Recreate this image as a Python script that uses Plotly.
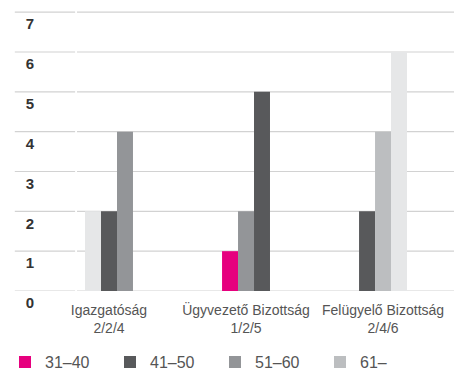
import plotly.graph_objects as go

# testuletek, a cimke alatt a korcsoportos letszamok
categories = ["Igazgatóság<br>2/2/4", "Ügyvezető Bizottság<br>1/2/5", "Felügyelő Bizottság<br>2/4/6"]

# harom oszlop-pozicio csoportonkent (novekvo sorrendben)
slot1 = [2, 1, 2]
slot2 = [2, 2, 4]
slot3 = [4, 5, 6]

PINK = "#e6007e"
DARK = "#58595b"
MID = "#939598"
LIGHT = "#bcbec0"
PALE = "#e6e7e8"

slot1_colors = [PALE, PINK, DARK]
slot2_colors = [DARK, MID, LIGHT]
slot3_colors = [MID, DARK, PALE]

legend_names = ["31–40", "41–50", "51–60", "61–"]
legend_colors = [PINK, DARK, MID, LIGHT]

y_ticks = list(range(0, 8))
GRID = "#d2d2d2"

fig = go.Figure()
for vals, cols in [(slot1, slot1_colors), (slot2, slot2_colors), (slot3, slot3_colors)]:
    fig.add_trace(go.Bar(x=categories, y=vals, marker_color=cols,
                         marker_line_width=0, showlegend=False, hoverinfo="skip"))

# legend only
for name, col in zip(legend_names, legend_colors):
    fig.add_trace(go.Scatter(x=[None], y=[None], mode="markers", name=name,
                             marker=dict(symbol="square", size=12, color=col)))

# gridlines drawn as shapes: short stub under the tick label + full line in plot area
for t in y_ticks:
    fig.add_shape(type="line", xref="paper", yref="y", x0=-0.165, x1=-0.005, y0=t, y1=t,
                  line=dict(color=GRID, width=1.2), layer="below")
    fig.add_shape(type="line", xref="paper", yref="y", x0=0, x1=1, y0=t, y1=t,
                  line=dict(color=GRID, width=1.2), layer="below")

fig.update_layout(
    width=454, height=388,
    margin=dict(l=77, r=0, t=11, b=97),
    plot_bgcolor="white", paper_bgcolor="white",
    barmode="group", bargap=0.65, bargroupgap=0,
    font=dict(family="Liberation Sans Narrow, Liberation Sans, Arial", color="#555555"),
    legend=dict(orientation="h", x=-0.191, xanchor="left", y=-0.254, yanchor="middle",
                entrywidth=60, font=dict(size=16, color="#555555"),
                itemclick=False),
    xaxis=dict(range=[-0.2336, 2.518], showgrid=False, zeroline=False, showline=False,
               ticks="", ticklabelstandoff=9, tickfont=dict(size=14, color="#555555")),
    yaxis=dict(range=[0, 7.03], tickvals=y_ticks, showgrid=False,
               zeroline=False, showline=False, ticks="", automargin=False,
               ticklabelshift=12, ticklabelstandoff=42,
               tickfont=dict(size=15, color="#333333", family="Liberation Sans Narrow, Arial", weight="bold")),
)

fig.write_html("out.html", post_script="document.body.style.margin='0';",
               config={"displayModeBar": False})
